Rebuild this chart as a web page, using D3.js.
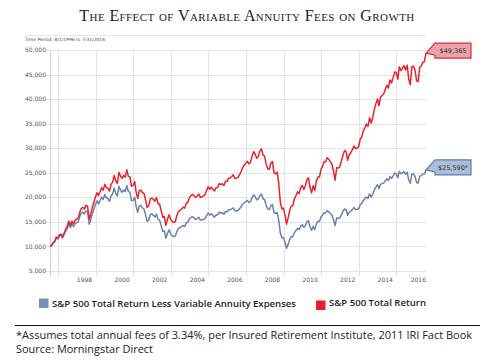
<!DOCTYPE html>
<html>
<head>
<meta charset="utf-8">
<script src="https://cdn.jsdelivr.net/npm/d3@7/dist/d3.min.js"></script>
<style>
  body { margin: 0; background: #fff; }
  svg { display: block; }
</style>
</head>
<body>
<div id="chart"></div>
<script>
// monthly values, growth of $10,000 (in $ thousands), month-ends from 7/31/1996 to 7/31/2016
const firstMonth = [1996, 7];

const totalReturn = [
  10.00, 10.20, 10.77, 11.07, 11.90, 11.67,
  12.40, 12.49, 11.98, 12.70, 13.46, 14.07, 15.19, 14.34, 15.13, 14.63, 15.31, 15.57,
  15.75, 16.89, 17.76, 17.95, 17.64, 18.36, 18.18, 15.55, 16.55, 17.91, 18.99, 20.10,
  20.95, 20.31, 21.13, 21.97, 21.45, 22.65, 21.96, 21.86, 21.27, 22.63, 23.10, 24.47,
  23.27, 22.83, 25.08, 24.35, 23.85, 24.46, 24.10, 25.60, 24.27, 24.19, 22.28, 22.41,
  23.22, 21.11, 19.79, 21.34, 21.48, 20.98, 20.78, 19.48, 17.92, 18.27, 19.67, 19.85,
  19.58, 19.20, 19.94, 18.74, 18.60, 17.28, 15.94, 16.04, 14.30, 15.56, 16.47, 15.50,
  15.10, 14.87, 15.02, 16.26, 17.11, 17.33, 17.64, 17.98, 17.80, 18.80, 18.97, 19.96,
  20.34, 20.62, 20.31, 20.00, 20.28, 20.67, 19.99, 20.07, 20.29, 20.61, 21.44, 22.17,
  21.64, 22.08, 21.70, 21.29, 21.96, 22.00, 22.82, 22.60, 22.79, 22.43, 23.25, 23.26,
  23.90, 23.94, 24.25, 24.58, 23.86, 23.90, 24.05, 24.60, 25.25, 26.08, 26.56, 26.93,
  27.35, 26.80, 27.11, 28.33, 29.29, 28.81, 27.94, 28.34, 29.40, 29.88, 28.61, 28.41,
  26.71, 25.83, 25.71, 26.98, 27.31, 25.00, 24.79, 25.13, 22.88, 19.04, 17.64, 17.80,
  16.31, 14.54, 15.80, 17.31, 18.26, 18.29, 19.68, 20.37, 21.13, 20.75, 21.97, 22.40,
  21.60, 22.25, 23.60, 23.98, 22.05, 20.90, 22.37, 21.34, 23.25, 24.14, 24.12, 25.74,
  26.36, 27.25, 27.26, 28.08, 27.74, 27.28, 26.74, 25.26, 23.48, 26.05, 25.96, 26.22,
  27.41, 28.57, 29.51, 29.33, 27.54, 28.67, 29.08, 29.70, 30.47, 29.91, 30.04, 30.30,
  31.88, 32.28, 33.49, 34.15, 34.92, 34.45, 36.21, 35.13, 36.23, 37.91, 39.03, 40.01,
  38.65, 40.38, 40.72, 41.04, 41.96, 42.83, 42.25, 43.91, 43.29, 44.37, 45.53, 45.41,
  44.07, 46.56, 45.82, 46.28, 46.84, 45.93, 46.91, 44.04, 42.95, 46.58, 46.68, 45.93,
  43.67, 43.56, 46.50, 46.70, 47.49, 47.61, 49.365
];

const lessFees = [
  10.00, 10.18, 10.72, 10.98, 11.77, 11.51,
  12.20, 12.26, 11.72, 12.39, 13.10, 13.65, 14.70, 13.84, 14.56, 14.04, 14.65, 14.86,
  15.00, 16.03, 16.82, 16.95, 16.61, 17.25, 17.02, 14.53, 15.41, 16.63, 17.59, 18.56,
  19.30, 18.66, 19.36, 20.07, 19.54, 20.58, 19.90, 19.75, 19.17, 20.34, 20.70, 21.88,
  20.74, 20.30, 22.23, 21.52, 21.03, 21.50, 21.13, 22.39, 21.16, 21.03, 19.33, 19.38,
  20.03, 18.16, 16.97, 18.25, 18.33, 17.85, 17.63, 16.48, 15.12, 15.37, 16.51, 16.62,
  16.34, 15.98, 16.55, 15.51, 15.35, 14.23, 13.09, 13.13, 11.68, 12.67, 13.38, 12.55,
  12.20, 11.97, 12.06, 13.02, 13.67, 13.81, 14.02, 14.25, 14.06, 14.82, 14.91, 15.64,
  15.90, 16.07, 15.79, 15.51, 15.68, 15.94, 15.37, 15.39, 15.52, 15.71, 16.30, 16.81,
  16.37, 16.66, 16.32, 15.97, 16.43, 16.41, 16.98, 16.77, 16.87, 16.55, 17.11, 17.07,
  17.49, 17.47, 17.65, 17.84, 17.27, 17.25, 17.32, 17.66, 18.08, 18.63, 18.91, 19.12,
  19.37, 18.93, 19.09, 19.90, 20.52, 20.13, 19.46, 19.69, 20.37, 20.65, 19.71, 19.52,
  18.31, 17.65, 17.52, 18.34, 18.51, 16.90, 16.71, 16.89, 15.34, 12.73, 11.76, 11.84,
  10.81,  9.61, 10.42, 11.39, 11.98, 11.96, 12.84, 13.25, 13.71, 13.42, 14.18, 14.41,
  13.86, 14.24, 15.06, 15.26, 14.00, 13.23, 14.12, 13.43, 14.59, 15.11, 15.06, 16.02,
  16.37, 16.87, 16.84, 17.29, 17.04, 16.71, 16.33, 15.39, 14.26, 15.78, 15.68, 15.80,
  16.47, 17.12, 17.63, 17.48, 16.36, 16.99, 17.19, 17.50, 17.91, 17.53, 17.56, 17.67,
  18.54, 18.72, 19.37, 19.70, 20.08, 19.76, 20.71, 20.04, 20.61, 21.50, 22.08, 22.57,
  21.74, 22.65, 22.79, 22.90, 23.35, 23.77, 23.38, 24.24, 23.83, 24.36, 24.93, 24.79,
  23.99, 25.28, 24.81, 24.99, 25.22, 24.67, 25.12, 23.52, 22.87, 24.74, 24.73, 24.26,
  23.01, 22.88, 24.36, 24.40, 24.75, 24.74, 25.59
];

const yTicks = [5, 10, 15, 20, 25, 30, 35, 40, 45, 50];
const xLabelYears = [1998, 2000, 2002, 2004, 2006, 2008, 2010, 2012, 2014, 2016];
const gridYears = [1997, 1999, 2001, 2003, 2005, 2007, 2009, 2011, 2013, 2015];
const seriesNames = ["S&P 500 Total Return Less Variable Annuity Expenses", "S&P 500 Total Return"];
const endLabels = ["$25,590*", "$49,365"];

const W = 493, H = 363;
const margin = {top: 50, right: 67, bottom: 92, left: 50};
const innerW = W - margin.left - margin.right;   // 376
const innerH = H - margin.top - margin.bottom;   // 221

const blue = "#6a82aa", red = "#e8222c";

const svg = d3.select("#chart").append("svg")
    .attr("width", W)
    .attr("height", H)
    .style("font-family", "'DejaVu Sans', sans-serif");

// title
svg.append("text")
    .attr("x", 247)
    .attr("y", 21)
    .attr("text-anchor", "middle")
    .style("font-family", "'Liberation Serif', 'DejaVu Serif', serif")
    .style("font-variant", "small-caps")
    .style("font-size", "16px")
    .style("letter-spacing", "0.4px")
    .attr("fill", "#222")
    .text("The Effect of Variable Annuity Fees on Growth");

// top rule + time period
svg.append("line")
    .attr("x1", 25).attr("x2", margin.left + innerW)
    .attr("y1", 35.5).attr("y2", 35.5)
    .attr("stroke", "#e6e6e6");

svg.append("text")
    .attr("x", 25).attr("y", 41)
    .style("font-size", "4.5px")
    .attr("fill", "#444")
    .text("Time Period: 8/1/1996 to 7/31/2016");

const monthDate = i => new Date(firstMonth[0], firstMonth[1] + i, 0);
const dates = totalReturn.map((d, i) => monthDate(i));

const xScale = d3.scaleTime()
    .domain([dates[0], dates[dates.length - 1]])
    .range([0, innerW]);

const yScale = d3.scaleLinear()
    .domain([5, 50])
    .range([innerH, 0]);

const g = svg.append("g")
    .attr("transform", `translate(${margin.left}, ${margin.top})`);

// horizontal grid
g.append("g")
  .selectAll("line")
  .data(yTicks)
  .join("line")
    .attr("x1", -4)
    .attr("x2", innerW)
    .attr("y1", d => Math.round(yScale(d)) + 0.5)
    .attr("y2", d => Math.round(yScale(d)) + 0.5)
    .attr("stroke", "#e3e3e3");

// vertical grid
g.append("g")
  .selectAll("line")
  .data(gridYears)
  .join("line")
    .attr("x1", d => Math.round(xScale(new Date(d, 0, 1))) + 0.5)
    .attr("x2", d => Math.round(xScale(new Date(d, 0, 1))) + 0.5)
    .attr("y1", 0)
    .attr("y2", innerH + 5)
    .attr("stroke", "#e3e3e3");

// left axis line
g.append("line")
    .attr("x1", 0.5).attr("x2", 0.5)
    .attr("y1", 0).attr("y2", innerH + 5)
    .attr("stroke", "#cfcfcf");

// y labels
g.append("g")
  .selectAll("text")
  .data(yTicks)
  .join("text")
    .attr("x", -4)
    .attr("y", d => yScale(d))
    .attr("dy", "0.35em")
    .attr("text-anchor", "end")
    .style("font-size", "6px")
    .attr("fill", "#555")
    .text(d => d3.format(",")(d * 1000));

// x labels
g.append("g")
  .selectAll("text")
  .data(xLabelYears)
  .join("text")
    .attr("x", (d, i) => i === xLabelYears.length - 1 ? innerW : xScale(new Date(d, 5, 1)))
    .attr("y", innerH + 11)
    .attr("text-anchor", (d, i) => i === xLabelYears.length - 1 ? "end" : "middle")
    .style("font-size", "6px")
    .attr("fill", "#555")
    .text(d => d);

// lines
const line = d3.line()
    .x((d, i) => xScale(dates[i]))
    .y(d => yScale(d));

g.append("path")
    .datum(lessFees)
    .attr("fill", "none")
    .attr("stroke", blue)
    .attr("stroke-width", 1.5)
    .attr("stroke-linejoin", "round")
    .attr("d", line);

g.append("path")
    .datum(totalReturn)
    .attr("fill", "none")
    .attr("stroke", red)
    .attr("stroke-width", 1.5)
    .attr("stroke-linejoin", "round")
    .attr("d", line);

// end-value callouts
function callout(value, label, stroke, fill) {
  const px = xScale(dates[dates.length - 1]);
  const py = yScale(value);
  const x0 = px + 9, x1 = px + 45, y0 = py - 10, y1 = py + 5;
  g.append("path")
      .attr("d", `M${px},${py} L${x0},${y0} L${x1},${y0} L${x1},${y1} L${x0},${y1} L${x0},${py + 2} Z`)
      .attr("fill", fill)
      .attr("stroke", stroke)
      .attr("stroke-width", 1.2);
  g.append("text")
      .attr("x", (x0 + x1) / 2)
      .attr("y", (y0 + y1) / 2)
      .attr("dy", "0.35em")
      .attr("text-anchor", "middle")
      .style("font-size", "6.5px")
      .attr("fill", "#333")
      .text(label);
}
callout(lessFees[lessFees.length - 1], endLabels[0], "#5d7cae", "#aabddb");
callout(totalReturn[totalReturn.length - 1], endLabels[1], "#e02a35", "#e9a3ab");

// legend
const legend = svg.append("g")
    .style("font-family", "'Open Sans', sans-serif")
    .style("font-weight", 600)
    .style("font-size", "9.5px")
    .attr("fill", "#222");

legend.append("rect").attr("x", 39).attr("y", 298.5).attr("width", 9.5).attr("height", 9.5).attr("fill", "#7b90b6");
legend.append("text").attr("x", 52).attr("y", 307)
    .attr("textLength", 244).attr("lengthAdjust", "spacingAndGlyphs")
    .text(seriesNames[0]);
legend.append("rect").attr("x", 316).attr("y", 300.5).attr("width", 9.5).attr("height", 9.5).attr("fill", "#e8202a");
legend.append("text").attr("x", 329).attr("y", 306)
    .attr("textLength", 97).attr("lengthAdjust", "spacingAndGlyphs")
    .text(seriesNames[1]);

// footnote
svg.append("line")
    .attr("x1", 15).attr("x2", 480)
    .attr("y1", 325.5).attr("y2", 325.5)
    .attr("stroke", "#111");

const foot = svg.append("g")
    .style("font-family", "'Open Sans', sans-serif")
    .style("font-size", "11.5px")
    .attr("fill", "#222");
foot.append("text").attr("x", 16).attr("y", 339)
    .attr("textLength", 456).attr("lengthAdjust", "spacingAndGlyphs")
    .text("*Assumes total annual fees of 3.34%, per Insured Retirement Institute, 2011 IRI Fact Book");
foot.append("text").attr("x", 16).attr("y", 353)
    .attr("textLength", 137).attr("lengthAdjust", "spacingAndGlyphs")
    .text("Source: Morningstar Direct");
</script>
</body>
</html>
